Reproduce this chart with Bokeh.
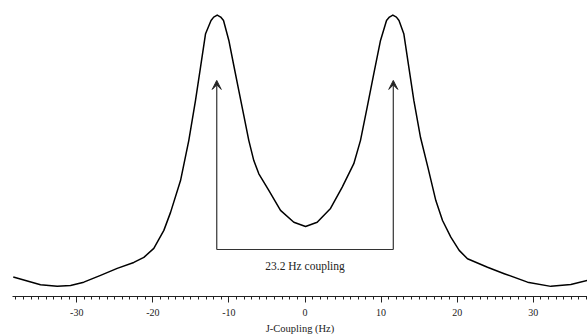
from bokeh.plotting import figure
from bokeh.models import Range1d, SingleIntervalTicker, Arrow, VeeHead, ColumnDataSource
from bokeh.core.properties import value
from bokeh.embed import file_html
from bokeh.resources import INLINE

# J-coupling spectrum (Hz) and relative intensity (peak = 1)
hz = [-38.34, -34.76, -32.56, -30.81, -29.07, -26.87, -24.68, -22.50, -21.18, -19.87,
      -18.55, -17.67, -16.36, -15.27, -14.39, -13.73, -13.07, -12.35, -12.00, -11.54,
      -11.08, -10.71, -10.01, -9.36, -8.70, -8.04, -7.39, -6.73, -6.07, -4.76,
      -3.22, -1.47, 0.07, 1.60, 3.35, 4.89, 6.41, 7.29, 8.17, 9.04,
      9.92, 10.71, 11.09, 11.54, 12.01, 12.35, 12.98, 13.64, 14.30, 15.18,
      16.14, 17.19, 18.07, 19.16, 20.26, 21.35, 23.98, 26.18, 29.24, 32.30,
      34.93, 37.12]
intensity = [0.069, 0.042, 0.036, 0.039, 0.051, 0.075, 0.100, 0.121, 0.139, 0.171,
             0.235, 0.299, 0.412, 0.555, 0.697, 0.815, 0.934, 0.981, 0.993, 1.000,
             0.993, 0.981, 0.910, 0.821, 0.732, 0.643, 0.555, 0.483, 0.436, 0.377,
             0.306, 0.264, 0.249, 0.264, 0.313, 0.389, 0.472, 0.555, 0.673, 0.792,
             0.910, 0.981, 0.993, 1.000, 0.993, 0.981, 0.934, 0.815, 0.697, 0.565,
             0.460, 0.341, 0.270, 0.211, 0.164, 0.134, 0.104, 0.081, 0.051, 0.036,
             0.043, 0.057]

tick_values = [-30, -20, -10, 0, 10, 20, 30]
tick_labels = ["-30", "-20", "-10", "0", "10", "20", "30"]

peak_positions = [-11.6, 11.6]
bracket_level = 0.167
arrow_tip_level = 0.768
coupling_label = "23.2 Hz coupling"
label_level = 0.110

FONT = "Liberation Serif"
INK = "#222222"

p = figure(width=587, height=336, output_backend="svg", toolbar_location=None,
           x_range=Range1d(-38.44, 37.12), y_range=Range1d(0, 1.052),
           y_axis_location=None, min_border_left=12, min_border_right=0,
           min_border_top=0, min_border_bottom=0)
p.outline_line_color = None
p.grid.visible = False
p.background_fill_color = "white"
p.border_fill_color = "white"

src = ColumnDataSource(dict(x=hz, y=intensity))
p.line("x", "y", source=src, line_color="black", line_width=1.5, line_join="round")

# bracket
p.segment(x0=[peak_positions[0]], y0=[bracket_level], x1=[peak_positions[1]], y1=[bracket_level],
          line_color="#333333", line_width=1.2)
for xp in peak_positions:
    p.add_layout(Arrow(end=VeeHead(size=9, fill_color=INK, line_color=INK, line_width=1),
                       x_start=xp, y_start=bracket_level, x_end=xp, y_end=arrow_tip_level,
                       line_color="#333333", line_width=1.2))

p.text(x=[0], y=[label_level], text=[coupling_label], text_font=value(FONT),
       text_font_size="11.5px", text_align="center", text_baseline="alphabetic",
       text_color=INK)

ax = p.xaxis[0]
ax.ticker = SingleIntervalTicker(interval=10, num_minor_ticks=10)
ax.major_label_overrides = {v: t for v, t in zip(tick_values, tick_labels)}
ax.axis_label = "J-Coupling (Hz)"
ax.axis_label_text_font = FONT
ax.axis_label_text_font_style = "normal"
ax.axis_label_text_font_size = "10.5px"
ax.axis_label_text_color = INK
ax.axis_label_standoff = 4
ax.major_label_text_font = FONT
ax.major_label_text_font_size = "10px"
ax.major_label_text_color = INK
ax.major_label_standoff = 6
ax.axis_line_color = INK
ax.axis_line_width = 1.2
ax.major_tick_line_color = INK
ax.minor_tick_line_color = INK
ax.major_tick_in = 0
ax.major_tick_out = 6
ax.minor_tick_in = 0
ax.minor_tick_out = 3

open("out.html", "w").write(file_html(p, INLINE))
